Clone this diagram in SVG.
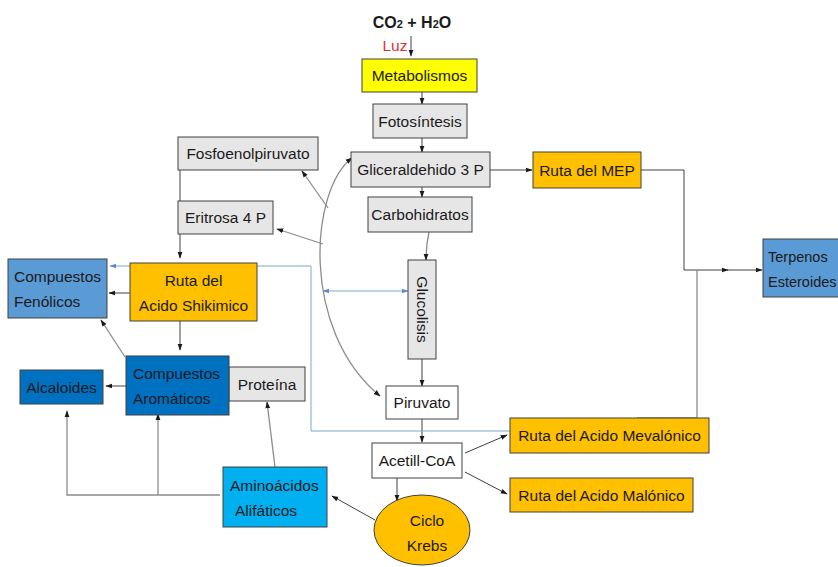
<svg xmlns="http://www.w3.org/2000/svg" width="838" height="567" viewBox="0 0 838 567">
  <style>
    .box { stroke: #404040; stroke-width: 1; }
    .grey { fill: #e7e6e6; }
    .white { fill: #ffffff; }
    .orange { fill: #ffc000; }
    .yellow { fill: #ffff00; }
    .lblue { fill: #5b9bd5; }
    .dblue { fill: #0070c0; }
    .cyan { fill: #00b0f0; }
    text { font-family: "Liberation Sans", Arial, sans-serif; font-size: 15.5px; fill: #1a1a1a; }
    .c { text-anchor: middle; }
    .ln { fill: none; stroke: #404040; stroke-width: 1; }
    .gl { fill: none; stroke: #8c8c8c; stroke-width: 1.3; }
    .bl { fill: none; stroke: #7fa7cc; stroke-width: 1; }
  </style>
  <defs>
    <marker id="ah" viewBox="0 0 10 10" refX="9" refY="5" markerWidth="7" markerHeight="7" orient="auto-start-reverse" markerUnits="userSpaceOnUse">
      <path d="M0,1.5 L10,5 L0,8.5 z" fill="#1a1a1a"/>
    </marker>
    <marker id="ahb" viewBox="0 0 10 10" refX="9" refY="5" markerWidth="7" markerHeight="7" orient="auto-start-reverse" markerUnits="userSpaceOnUse">
      <path d="M0,1.5 L10,5 L0,8.5 z" fill="#5b8fc4"/>
    </marker>
  </defs>

  <!-- connectors -->
  <g id="connectors">
    <path class="ln" d="M411,36 L411,56" marker-end="url(#ah)"/>
    <path class="ln" d="M422,92 L422,104" marker-end="url(#ah)"/>
    <path class="ln" d="M422,138 L422,152" marker-end="url(#ah)"/>
    <path class="ln" d="M422,187 L422,197" marker-end="url(#ah)"/>
    <path class="ln" d="M490,170 L532,170" marker-end="url(#ah)"/>
    <path class="ln" d="M641,170 L684,170 L684,270 L728,270" marker-end="url(#ah)"/>
    <path class="ln" d="M726,270 L762,270" marker-end="url(#ah)"/>
    <path class="gl" d="M697,270 L697,418 L637,418"/>
    <path class="gl" d="M429,232 Q426,246 426,260" marker-end="url(#ah)"/>
    <path class="ln" d="M422,359 L422,386" marker-end="url(#ah)"/>
    <path class="ln" d="M422,419 L422,442" marker-end="url(#ah)"/>
    <path class="ln" d="M465,453 L507,435" marker-end="url(#ah)"/>
    <path class="ln" d="M465,472 L507,494" marker-end="url(#ah)"/>
    <path class="ln" d="M397,478 L397,501" marker-end="url(#ah)"/>
    <path class="ln" d="M375,520 L332,496" marker-end="url(#ah)"/>
    <!-- big arc from the triose to pyruvate, with its two side branches -->
    <path class="gl" d="M352,158 C310,190 300,330 380,396" marker-start="url(#ah)" marker-end="url(#ah)"/>
    <path class="gl" d="M328,208 L302,171" marker-end="url(#ah)"/>
    <path class="gl" d="M323,244 L277,229" marker-end="url(#ah)"/>
    <!-- light blue links -->
    <path class="bl" d="M323,291 L408,291" marker-start="url(#ahb)" marker-end="url(#ahb)"/>
    <path class="bl" d="M510,431 L311,431 L311,266 L110,266" marker-end="url(#ahb)"/>
    <!-- shikimate side -->
    <path class="ln" d="M180,170 L180,258" marker-end="url(#ah)"/>
    <path class="ln" d="M130,293 L109,293" marker-end="url(#ah)"/>
    <path class="ln" d="M180,321 L180,350" marker-end="url(#ah)"/>
    <path class="gl" d="M125,357 L101,320" marker-end="url(#ah)"/>
    <path class="ln" d="M126,386 L106,386" marker-end="url(#ah)"/>
    <path class="gl" d="M275,467 L267,402" marker-end="url(#ah)"/>
    <path class="gl" d="M220,495 L67,495 L67,411" marker-end="url(#ah)"/>
    <path class="gl" d="M158,495 L158,414" marker-end="url(#ah)"/>
  </g>

  <!-- inputs -->
  <g id="inputs">
    <text x="412" y="28" class="c" style="font-size:16px;font-weight:bold">CO<tspan style="font-size:11px">2</tspan> + H<tspan style="font-size:11px">2</tspan>O</text>
    <text x="395" y="51" class="c" style="fill:#e03030;font-size:15.5px">Luz</text>
  </g>

  <g id="metabolismos">
    <rect class="box yellow" x="362" y="59" width="115" height="33"/>
    <text x="419.5" y="81" class="c">Metabolismos</text>
  </g>
  <g id="fotosintesis">
    <rect class="box grey" x="373" y="104" width="94" height="34"/>
    <text x="420" y="126.5" class="c">Fotosíntesis</text>
  </g>
  <g id="gliceraldehido">
    <rect class="box grey" x="351" y="152" width="139" height="35"/>
    <text x="420.5" y="175" class="c">Gliceraldehido 3 P</text>
  </g>
  <g id="carbohidratos">
    <rect class="box grey" x="368" y="197" width="104" height="35"/>
    <text x="420" y="220" class="c">Carbohidratos</text>
  </g>
  <g id="ruta-mep">
    <rect class="box orange" x="533" y="152" width="108" height="36"/>
    <text x="587" y="175.5" class="c">Ruta del MEP</text>
  </g>
  <g id="terpenos">
    <rect class="box lblue" x="763" y="239" width="80" height="58"/>
    <text x="768" y="262" style="font-size:14.5px">Terpenos</text>
    <text x="768" y="287" style="font-size:14.5px">Esteroides</text>
  </g>
  <g id="fosfoenolpiruvato">
    <rect class="box grey" x="178" y="137" width="140" height="33"/>
    <text x="248" y="159" class="c">Fosfoenolpiruvato</text>
  </g>
  <g id="eritrosa">
    <rect class="box grey" x="178" y="201" width="95" height="33"/>
    <text x="225.5" y="223" class="c">Eritrosa 4 P</text>
  </g>
  <g id="glucolisis">
    <rect class="box grey" x="408" y="260" width="28" height="99"/>
    <text transform="translate(416.5,309.5) rotate(90)" class="c">Glucolisis</text>
  </g>
  <g id="piruvato">
    <rect class="box white" x="386" y="386" width="72" height="33"/>
    <text x="422" y="408" class="c">Piruvato</text>
  </g>
  <g id="acetil-coa">
    <rect class="box white" x="372" y="443" width="90" height="35"/>
    <text x="417" y="466" class="c">Acetill-CoA</text>
  </g>
  <g id="mevalonico">
    <rect class="box orange" x="510" y="418" width="199" height="35"/>
    <text x="609.5" y="441" class="c">Ruta del Acido Mevalónico</text>
  </g>
  <g id="malonico">
    <rect class="box orange" x="510" y="478" width="183" height="34"/>
    <text x="601.5" y="500.5" class="c">Ruta del Acido Malónico</text>
  </g>
  <g id="krebs">
    <ellipse class="box orange" cx="422" cy="530" rx="48" ry="35"/>
    <text x="427" y="526" class="c">Ciclo</text>
    <text x="427" y="551" class="c">Krebs</text>
  </g>
  <g id="aminoacidos">
    <rect class="box cyan" x="223" y="467" width="104" height="60"/>
    <text x="230" y="491">Aminoácidos</text>
    <text x="235" y="516">Alifáticos</text>
  </g>
  <g id="proteina">
    <rect class="box grey" x="229" y="367" width="76" height="34"/>
    <text x="267" y="389.5" class="c">Proteína</text>
  </g>
  <g id="aromaticos">
    <rect class="box dblue" x="126" y="356" width="103" height="59"/>
    <text x="133" y="379">Compuestos</text>
    <text x="133" y="404">Aromáticos</text>
  </g>
  <g id="alcaloides">
    <rect class="box dblue" x="20" y="370" width="83" height="34"/>
    <text x="61.5" y="392.5" class="c">Alcaloides</text>
  </g>
  <g id="fenolicos">
    <rect class="box lblue" x="8" y="259" width="99" height="59"/>
    <text x="14" y="282">Compuestos</text>
    <text x="14" y="307">Fenólicos</text>
  </g>
  <g id="shikimico">
    <rect class="box orange" x="130" y="263" width="127" height="58"/>
    <text x="193.5" y="286" class="c">Ruta del</text>
    <text x="193.5" y="311" class="c">Acido Shikimico</text>
  </g>
</svg>
